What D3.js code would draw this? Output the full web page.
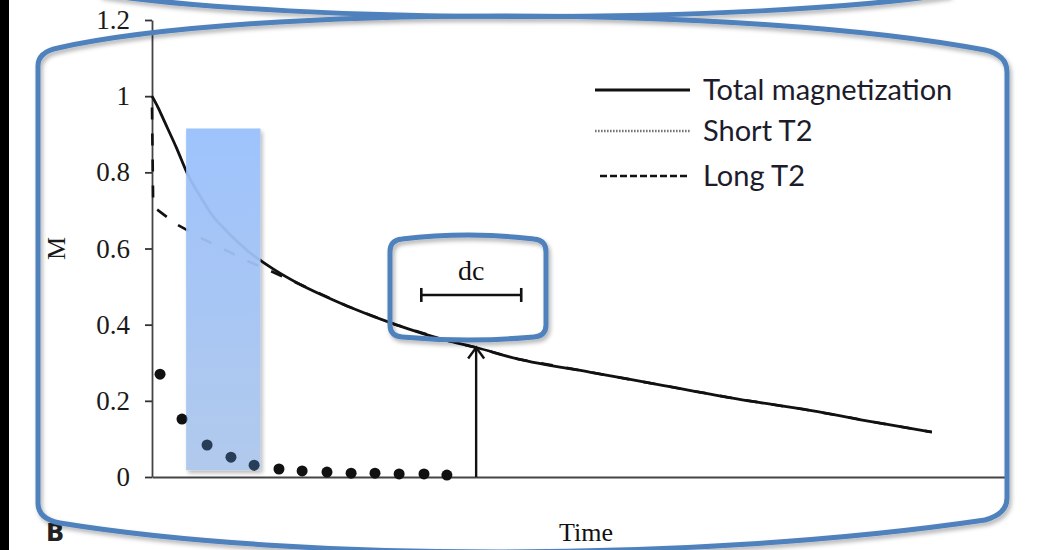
<!DOCTYPE html>
<html>
<head>
<meta charset="utf-8">
<script src="https://cdn.jsdelivr.net/npm/d3@7/dist/d3.min.js"></script>
<style>
  html, body { margin: 0; padding: 0; background: #fff; }
  svg { display: block; }
</style>
</head>
<body>
<svg id="chart" width="1055" height="550"></svg>
<script>
// ---------- data ----------
const yTicks = [0, 0.2, 0.4, 0.6, 0.8, 1, 1.2];
const yTickLabels = ["0", "0.2", "0.4", "0.6", "0.8", "1", "1.2"];

const totalTime = [0, 0.25, 0.5, 1, 1.5, 2, 2.5, 3, 4, 5, 6, 7, 8, 10, 12, 13.3, 15, 18, 21, 24, 27, 30, 32];
const totalM    = [1.0, 0.97, 0.935, 0.865, 0.79, 0.735, 0.685, 0.65, 0.59, 0.545, 0.508, 0.477, 0.449, 0.40, 0.36, 0.34, 0.31, 0.275, 0.24, 0.205, 0.175, 0.14, 0.118];

const longTime = [0, 0.05, 1, 2, 3, 4, 5, 6, 8, 10, 12, 13.3, 15, 18, 21, 24, 27, 30, 32];
const longM    = [0.97, 0.71, 0.664, 0.628, 0.596, 0.565, 0.537, 0.508, 0.449, 0.40, 0.36, 0.34, 0.31, 0.275, 0.24, 0.205, 0.175, 0.14, 0.118];

const shortTime = [0.33, 1.23, 2.26, 3.24, 4.19, 5.21, 6.16, 7.18, 8.17, 9.15, 10.14, 11.16, 12.1];
const shortM    = [0.27, 0.152, 0.084, 0.052, 0.031, 0.021, 0.016, 0.013, 0.01, 0.01, 0.008, 0.008, 0.005];

const legendLabels = ["Total magnetization", "Short T2", "Long T2"];

const arrowTime = 13.3;          // vertical arrow position
const arrowM = 0.34;             // arrow tip (on total curve)
const highlightTime = [1.4, 4.45];
const highlightM = [0.018, 0.915];
const dcTime = [11.05, 15.15];   // "dc" interval bar
const dcM = 0.478;

// ---------- setup ----------
const svg = d3.select("#chart");
const W = 1055, H = 550;
const x = d3.scaleLinear().domain([0, 35]).range([152, 1005]);
const y = d3.scaleLinear().domain([0, 1.2]).range([477, 20]);
const serif = "'Liberation Serif','DejaVu Serif',serif";
const sans = "Lato,'Open Sans',sans-serif";
const frameBlue = "#4f81bd";

const defs = svg.append("defs");
const grad = defs.append("linearGradient").attr("id", "hl").attr("x1", 0).attr("y1", 0).attr("x2", 0).attr("y2", 1);
grad.append("stop").attr("offset", "0%").attr("stop-color", "#b4cdfb");
grad.append("stop").attr("offset", "100%").attr("stop-color", "#d2d6e3");
const sh = defs.append("filter").attr("id", "shadow").attr("x", "-10%").attr("y", "-10%").attr("width", "120%").attr("height", "120%");
sh.append("feDropShadow").attr("dx", 2).attr("dy", 3).attr("stdDeviation", 2).attr("flood-color", "#000").attr("flood-opacity", 0.3);

// left black strip
svg.append("rect").attr("x", 0).attr("y", 0).attr("width", 9).attr("height", H).attr("fill", "#000");

// ---------- axes ----------
const yAxis = d3.axisLeft(y).tickValues(yTicks).tickSize(7).tickPadding(15)
  .tickFormat((d, i) => yTickLabels[i]).tickSizeOuter(0);
const gy = svg.append("g").attr("transform", `translate(${x(0)},0)`).call(yAxis);
gy.select(".domain").attr("stroke", "#444").attr("stroke-width", 1.8);
gy.selectAll(".tick line").attr("stroke", "#333").attr("stroke-width", 1.8);
gy.selectAll(".tick text").attr("font-family", serif).attr("font-size", 27).attr("fill", "#1a1a1a");

const xAxis = d3.axisBottom(x).tickValues([]).tickSizeOuter(0);
const gx = svg.append("g").attr("transform", `translate(0,${y(0)})`).call(xAxis);
gx.select(".domain").attr("stroke", "#444").attr("stroke-width", 1.8);

svg.append("text").attr("transform", `translate(65,${y(0.6)}) rotate(-90)`)
  .attr("text-anchor", "middle").attr("font-family", serif).attr("font-size", 26).attr("fill", "#1a1a1a").text("M");
svg.append("text").attr("x", 586).attr("y", 541).attr("text-anchor", "middle")
  .attr("font-family", serif).attr("font-size", 26).attr("fill", "#111").text("Time");

// ---------- series ----------
const line = d3.line().x(d => x(d[0])).y(d => y(d[1])).curve(d3.curveMonotoneX);
const longLine = d3.line().x(d => x(d[0])).y(d => y(d[1]));
svg.append("path").datum(longTime.map((t, i) => [t, longM[i]]))
  .attr("d", longLine.curve(d3.curveLinear)).attr("fill", "none").attr("stroke", "#111")
  .attr("stroke-width", 2.6).attr("stroke-dasharray", "12,14");
svg.append("path").datum(totalTime.map((t, i) => [t, totalM[i]]))
  .attr("d", line).attr("fill", "none").attr("stroke", "#111").attr("stroke-width", 2.8);

// highlight rectangle (base)
const hx0 = x(highlightTime[0]), hx1 = x(highlightTime[1]);
const hy0 = y(highlightM[1]), hy1 = y(highlightM[0]);
svg.append("rect").attr("x", hx0).attr("y", hy0).attr("width", hx1 - hx0).attr("height", hy1 - hy0)
  .attr("fill", "url(#hl)").attr("opacity", 0.92).attr("filter", "url(#shadow)");

// short T2 dots
svg.append("g").selectAll("circle").data(shortTime.map((t, i) => [t, shortM[i]])).join("circle")
  .attr("cx", d => x(d[0])).attr("cy", d => y(d[1])).attr("r", 5.5).attr("fill", "#111");

// highlight overlay
svg.append("rect").attr("x", hx0).attr("y", hy0).attr("width", hx1 - hx0).attr("height", hy1 - hy0)
  .attr("fill", "#5fa6ff").attr("opacity", 0.3);

// arrow
const ax = x(arrowTime), ay = y(arrowM);
svg.append("line").attr("x1", ax).attr("x2", ax).attr("y1", y(0)).attr("y2", ay)
  .attr("stroke", "#111").attr("stroke-width", 2.4);
svg.append("path").attr("d", `M${ax - 8},${ay + 11} L${ax},${ay} L${ax + 8},${ay + 11}`)
  .attr("fill", "none").attr("stroke", "#111").attr("stroke-width", 2.4);

// dc interval
const dx0 = x(dcTime[0]), dx1 = x(dcTime[1]), dy = y(dcM);
svg.append("line").attr("x1", dx0).attr("x2", dx1).attr("y1", dy).attr("y2", dy).attr("stroke", "#111").attr("stroke-width", 2.6);
[dx0, dx1].forEach(v => svg.append("line").attr("x1", v).attr("x2", v).attr("y1", dy - 7).attr("y2", dy + 7)
  .attr("stroke", "#111").attr("stroke-width", 2.6));
svg.append("text").attr("x", (dx0 + dx1) / 2).attr("y", dy - 15).attr("text-anchor", "middle")
  .attr("font-family", serif).attr("font-size", 28).attr("fill", "#111").text("dc");

// ---------- legend ----------
const lg = svg.append("g");
const legY = [90, 131, 176];
lg.append("line").attr("x1", 595).attr("x2", 690).attr("y1", legY[0]).attr("y2", legY[0]).attr("stroke", "#111").attr("stroke-width", 2.8);
lg.append("line").attr("x1", 595).attr("x2", 690).attr("y1", legY[1]).attr("y2", legY[1]).attr("stroke", "#777").attr("stroke-width", 2.4).attr("stroke-dasharray", "1.6,1.4");
lg.append("line").attr("x1", 600).attr("x2", 690).attr("y1", legY[2]).attr("y2", legY[2]).attr("stroke", "#111").attr("stroke-width", 2.4).attr("stroke-dasharray", "7,3");
legendLabels.forEach((s, i) => lg.append("text").attr("x", 703).attr("y", legY[i] + 10)
  .attr("font-family", sans).attr("font-size", 29).attr("fill", "#1c1c2c").text(s));

// "B" panel label (partly under frame)
svg.append("text").attr("x", 46).attr("y", 541).attr("font-family", "'DejaVu Sans',sans-serif")
  .attr("font-weight", "bold").attr("font-size", 24).attr("fill", "#222").text("B");

// ---------- decorative frames ----------
const fg = svg.append("g").attr("fill", "none").attr("stroke", frameBlue).attr("stroke-width", 5).attr("filter", "url(#shadow)");
fg.append("path").attr("d", "M100,-6 C300,24 750,24 950,-6");
fg.append("path").attr("d",
  "M38,66 Q38,52 58,48 C250,5 750,5 985,50 Q1007,55 1007,72 L1007,498 Q1007,514 985,520 C700,562 300,562 60,523 Q38,519 38,503 Z");
fg.append("path").attr("d",
  "M390,252 Q390,240 402,239 Q468,231 534,239 Q546,240 546,252 L546,325 Q546,336 534,337 Q468,343 402,337 Q390,336 390,325 Z");
</script>
</body>
</html>
